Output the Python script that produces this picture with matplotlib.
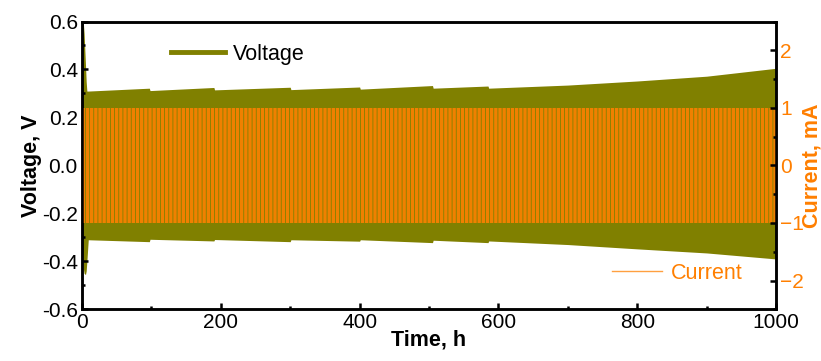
import matplotlib
matplotlib.use("Agg")
import matplotlib.pyplot as plt
from matplotlib.lines import Line2D
from matplotlib.ticker import MultipleLocator, FormatStrFormatter

plt.rcParams['font.family'] = ['Liberation Sans', 'DejaVu Sans']
plt.rcParams['hatch.linewidth'] = 0.6

# envelope of the voltage oscillation (time h, V)
time_h = [0, 2, 3, 5, 6, 7, 9, 97, 98, 190, 191, 300, 301, 400, 401, 505, 506,
          585, 586, 700, 800, 900, 1000]
volt_upper = [0.60, 0.59, 0.55, 0.42, 0.35, 0.31, 0.31, 0.322, 0.312, 0.325,
              0.315, 0.326, 0.316, 0.327, 0.318, 0.333, 0.322, 0.331, 0.322,
              0.335, 0.352, 0.372, 0.405]
volt_lower = [-0.30, -0.43, -0.45, -0.455, -0.44, -0.40, -0.31, -0.318,
              -0.308, -0.315, -0.309, -0.318, -0.31, -0.316, -0.31, -0.322,
              -0.312, -0.322, -0.315, -0.33, -0.348, -0.365, -0.39]

# current square wave amplitude (mA)
curr_time = [0, 1000]
curr_upper = [1.0, 1.0]
curr_lower = [-1.0, -1.0]

OLIVE = '#808000'
ORANGE = '#FF7F00'

fig = plt.figure(figsize=(8.21, 3.61), dpi=100)
ax = fig.add_axes([0.0999, 0.1432, 0.8453, 0.7972])
ax2 = ax.twinx()

ax.fill_between(time_h, volt_lower, volt_upper, color=OLIVE, lw=0)
ax2.fill_between(curr_time, curr_lower, curr_upper, facecolor='#F08000',
                 edgecolor=OLIVE, hatch='||||', lw=0)

ax.set_xlim(0, 1000)
ax.set_ylim(-0.6, 0.6)
ax2.set_ylim(-2.5, 2.5)

ax.xaxis.set_major_locator(MultipleLocator(200))
ax.xaxis.set_minor_locator(MultipleLocator(100))
ax.yaxis.set_major_locator(MultipleLocator(0.2))
ax.yaxis.set_minor_locator(MultipleLocator(0.1))
ax2.yaxis.set_major_locator(MultipleLocator(1))
ax2.yaxis.set_minor_locator(MultipleLocator(0.5))
ax.yaxis.set_major_formatter(FormatStrFormatter('%.1f'))

for a in (ax, ax2):
    for s in a.spines.values():
        s.set_linewidth(1.8)
        s.set_zorder(5)

FS = 15
ax.tick_params(axis='both', which='major', direction='in', length=4, width=1.8,
               labelsize=FS, top=False, right=False, colors='black', pad=3)
ax.tick_params(axis='both', which='minor', direction='in', length=2.5, width=1.8,
               top=False, right=False)
ax2.tick_params(axis='y', which='major', direction='in', length=4, width=1.8,
                labelsize=FS, labelcolor=ORANGE, color='black', pad=3)
ax2.tick_params(axis='y', which='minor', direction='in', length=2.5, width=1.8,
                color='black')

ax.set_xlabel('Time, h', fontsize=15.5, fontweight='bold', labelpad=-2)
ax.set_ylabel('Voltage, V', fontsize=15.5, fontweight='bold', labelpad=0)
ax2.set_ylabel('Current, mA', fontsize=15.5, fontweight='bold', color=ORANGE,
               labelpad=-2)

leg1 = ax2.legend([Line2D([], [], color=OLIVE, lw=3.5)], ['Voltage'],
                  loc='center left', bbox_to_anchor=(0.128, 0.887),
                  frameon=False, fontsize=15.5, handlelength=2.5,
                  handletextpad=0.4, borderpad=0, borderaxespad=0)
ax2.add_artist(leg1)
leg2 = ax2.legend([Line2D([], [], color='#FFA040', lw=1.0)], ['Current'],
                  loc='center right', bbox_to_anchor=(0.952, 0.126),
                  frameon=False, fontsize=15.5, handlelength=2.35,
                  handletextpad=0.4, borderpad=0, borderaxespad=0,
                  labelcolor=ORANGE)

fig.savefig('out.png', dpi=100)
